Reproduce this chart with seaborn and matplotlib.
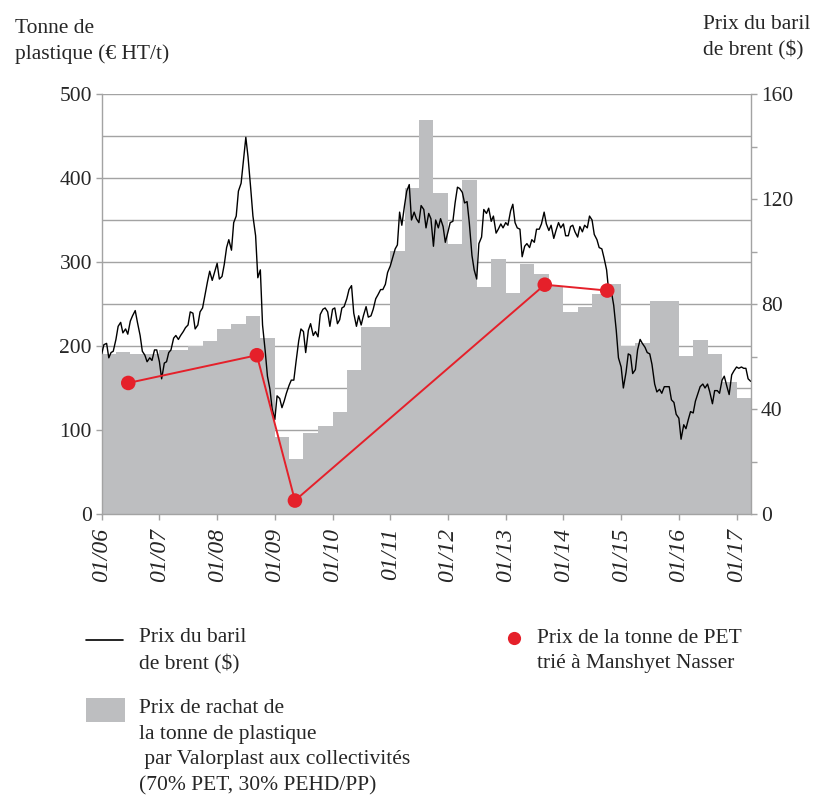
import numpy as np
import pandas as pd
import matplotlib
matplotlib.use("Agg")
import matplotlib.pyplot as plt
import seaborn as sns
from matplotlib.lines import Line2D
from matplotlib.patches import Rectangle
from matplotlib.ticker import MultipleLocator

# ---------------- data ----------------
year_ticks = list(range(2006, 2018))
year_tick_labels = ["01/06", "01/07", "01/08", "01/09", "01/10", "01/11",
                    "01/12", "01/13", "01/14", "01/15", "01/16", "01/17"]

# Valorplast buy-back price (EUR/t), quarterly steps from 2006 Q1
plastic_values = [190, 193, 190, 190, 195, 195, 200, 206,
                  220, 226, 236, 210, 92, 65, 96, 105,
                  121, 172, 223, 223, 313, 388, 469, 382,
                  322, 398, 270, 304, 263, 298, 286, 272,
                  240, 247, 262, 274, 200, 204, 254, 254,
                  188, 207, 190, 157, 138]

# Brent price ($/bbl), read twice a month (1st and 15th) from 01/2006
brent_values = [
    61.0, 64.5, 65.0, 59.5, 61.5, 62.0, 66.5, 71.5, 73.0, 69.0, 70.5, 68.5,
    73.5, 75.5, 77.5, 73.0, 68.0, 62.0, 60.5, 58.0, 59.5, 58.5, 62.5, 62.5,
    58.0, 51.5, 57.5, 58.0, 61.5, 62.5, 67.0, 68.0, 66.5, 68.0, 69.5, 71.0,
    72.0, 77.0, 76.5, 70.5, 72.0, 77.0, 78.5, 83.0, 88.5, 92.5, 89.0, 92.0,
    95.5, 89.5, 90.5, 95.0, 101.5, 104.5, 100.5, 111.0, 113.5, 123.0, 126.0, 134.0,
    143.5, 136.0, 124.0, 113.5, 106.0, 90.0, 93.0, 72.0, 62.0, 52.5, 47.5, 40.0,
    36.0, 45.0, 44.0, 40.5, 43.0, 46.0, 49.0, 51.0, 51.0, 58.0, 66.0, 70.5,
    69.5, 61.5, 70.0, 72.5, 68.0, 69.5, 67.5, 76.0, 78.0, 78.5, 77.0, 71.5,
    78.0, 78.5, 72.5, 74.0, 78.5, 79.0, 82.0, 85.5, 87.0, 76.5, 71.5, 75.5,
    72.0, 75.5, 79.0, 75.0, 75.5, 78.0, 82.0, 83.5, 85.5, 85.5, 87.5, 92.0,
    94.5, 97.5, 101.0, 102.5, 115.0, 110.0, 117.5, 123.0, 125.5, 112.0, 115.0, 112.5,
    111.0, 117.5, 116.0, 109.0, 114.5, 112.5, 102.0, 112.0, 109.0, 112.5, 109.5, 103.5,
    107.5, 111.0, 111.5, 118.5, 124.5, 124.0, 122.5, 118.5, 119.0, 111.0, 98.5, 93.0,
    89.5, 103.0, 105.5, 116.0, 114.5, 116.5, 111.5, 113.5, 107.0, 108.5, 110.5, 109.0,
    111.0, 110.0, 115.5, 118.0, 111.0, 109.0, 108.5, 98.0, 102.0, 103.0, 101.5, 104.5,
    103.5, 108.5, 108.5, 110.5, 115.0, 110.5, 108.0, 110.0, 105.0, 108.0, 111.0, 109.0,
    110.5, 106.0, 106.0, 109.5, 110.0, 107.5, 105.5, 109.5, 107.5, 110.0, 109.0, 113.5,
    112.0, 106.5, 104.5, 101.5, 101.0, 97.5, 93.0, 84.5, 84.5, 79.5, 70.0, 59.5,
    56.0, 48.0, 54.0, 61.0, 60.5, 53.5, 55.0, 62.5, 66.5, 65.0, 63.5, 61.5,
    61.0, 57.0, 49.5, 46.5, 47.5, 46.0, 48.5, 48.5, 48.5, 43.5, 42.5, 38.0,
    36.5, 28.5, 34.0, 32.5, 36.0, 39.0, 38.5, 43.0, 46.0, 48.5, 49.5, 48.0,
    49.5, 46.5, 42.0, 47.0, 47.0, 46.0, 51.0, 52.5, 48.5, 45.5, 53.0, 54.5,
    56.0, 55.5, 56.0, 55.5, 55.5, 51.5, 50.5,
]

# PET price at Manshyet Nasser (EUR/t)
pet_dates = ["2006-06-18", "2008-09-09", "2009-05-08", "2013-09-05", "2014-10-05"]
pet_values = [156, 189, 16, 273, 266]

# ---------------- helpers ----------------
def to_year(d):
    d = pd.Timestamp(d)
    n = 366 if d.is_leap_year else 365
    return d.year + (d.dayofyear - 1) / n

x_end = 2017.25
quarter_starts = [to_year(d) for d in pd.date_range("2006-01-01", periods=len(plastic_values), freq="QS")]
quarter_widths = [b - a for a, b in zip(quarter_starts, quarter_starts[1:] + [x_end])]
brent_x = [to_year(d) for d in pd.date_range("2006-01-01", periods=len(brent_values), freq="SMS")]
pet_x = [to_year(d) for d in pet_dates]

# ---------------- style ----------------
sns.set_style("white")
plt.rcParams["font.family"] = ["Liberation Serif", "DejaVu Serif"]

GRAY_FILL = "#bdbec0"
GRID = "#a3a3a3"
RED = "#e5202a"
FS = 15.5

fig = plt.figure(figsize=(8.14, 7.96), dpi=100)
L, R, B, T = 101.7, 751, 514, 94
W_, H_ = 814, 796
ax = fig.add_axes([L / W_, 1 - B / H_, (R - L) / W_, (B - T) / H_])

# bars (plastic price)
ax.bar(quarter_starts, plastic_values, width=quarter_widths, align="edge",
       color=GRAY_FILL, linewidth=0, zorder=2)
ax.set_xlim(2006, x_end)
ax.set_ylim(0, 500)
ax.yaxis.set_major_locator(MultipleLocator(100))
ax.yaxis.set_minor_locator(MultipleLocator(50))
ax.set_axisbelow(True)
ax.grid(True, which="both", axis="y", color=GRID, linewidth=1.0)
ax.grid(False, axis="x")
ax.set_xticks(year_ticks)
ax.set_xticklabels(year_tick_labels, rotation=90, fontstyle="italic", fontsize=17)
ax.tick_params(axis="x", direction="out", length=4, width=1, color=GRID, pad=6, bottom=True)
ax.tick_params(axis="y", which="major", direction="out", length=4, width=1, color=GRID,
               labelsize=FS, pad=3, left=True)
ax.tick_params(axis="y", which="minor", length=0)
for s in ["top", "right"]:
    ax.spines[s].set_visible(False)
for s in ["left", "bottom"]:
    ax.spines[s].set_color(GRID)
    ax.spines[s].set_linewidth(1.0)

# brent on right axis
ax2 = ax.twinx()
sns.lineplot(x=brent_x, y=brent_values, ax=ax2, color="black", linewidth=1.0,
             sort=False, estimator=None)
ax2.set_ylim(0, 160)
ax2.yaxis.set_major_locator(MultipleLocator(40))
ax2.yaxis.set_minor_locator(MultipleLocator(20))
ax2.tick_params(axis="y", which="both", direction="out", length=4, width=1, color=GRID,
                labelsize=FS, pad=3, right=True)
for s in ["top", "left", "bottom"]:
    ax2.spines[s].set_visible(False)
ax2.spines["right"].set_color(GRID)
ax2.spines["right"].set_linewidth(1.0)
ax2.set_ylabel("")
ax2.grid(False)

# PET on top, same scale as left
ax3 = ax.twinx()
ax3.set_ylim(0, 500)
sns.lineplot(x=pet_x, y=pet_values, ax=ax3, color=RED, linewidth=1.4,
             sort=False, estimator=None)
sns.scatterplot(x=pet_x, y=pet_values, ax=ax3, color=RED, s=110, edgecolor="none",
                zorder=5)
ax3.set_ylim(0, 500)
ax3.axis("off")

# axis titles
fig.text(15 / W_, 1 - 19 / H_, "Tonne de\nplastique (€ HT/t)", ha="left", va="top",
         fontsize=FS, linespacing=1.45)
fig.text(703 / W_, 1 - 15 / H_, "Prix du baril\nde brent ($)", ha="left", va="top",
         fontsize=FS, linespacing=1.45)

# legend (manual)
fig.add_artist(Line2D([85.6 / W_, 123 / W_], [1 - 640 / H_] * 2, color="black",
                      linewidth=1.2, transform=fig.transFigure))
fig.text(139 / W_, 1 - 651 / H_, "Prix du baril\nde brent ($)", ha="left", va="center",
         fontsize=FS, linespacing=1.47)
fig.add_artist(Rectangle((85.6 / W_, 1 - 722 / H_), 39.4 / W_, 24 / H_,
                         color=GRAY_FILL, transform=fig.transFigure, linewidth=0))
fig.text(139 / W_, 1 - 747 / H_,
         "Prix de rachat de\nla tonne de plastique\n par Valorplast aux collectivités\n(70% PET, 30% PEHD/PP)",
         ha="left", va="center", fontsize=FS, linespacing=1.47)
fig.add_artist(Line2D([514 / W_], [1 - 638 / H_], marker="o", markersize=9.5,
                      color=RED, markeredgewidth=0, linestyle="none",
                      transform=fig.transFigure))
fig.text(537 / W_, 1 - 651 / H_, "Prix de la tonne de PET\ntrié à Manshyet Nasser",
         ha="left", va="center", fontsize=FS, linespacing=1.47)

fig.savefig("out.png", dpi=100)
